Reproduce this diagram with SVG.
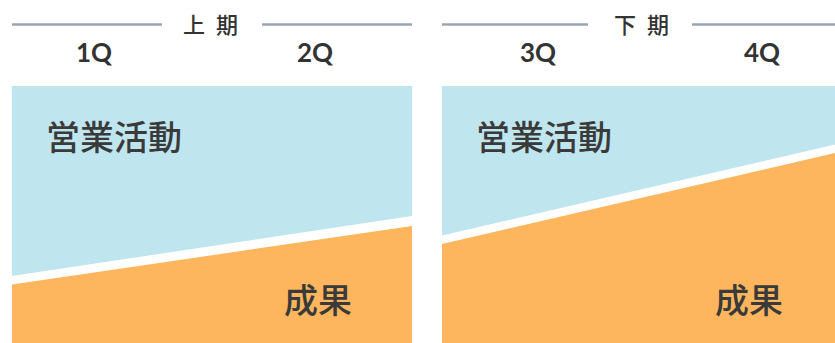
<svg xmlns="http://www.w3.org/2000/svg" width="835" height="343" viewBox="0 0 835 343">
<style>
.rule{stroke:#9ba4b4;stroke-width:2.5;fill:none}
.blue{fill:#bfe5ee}
.orange{fill:#fdb65d}
.period{font-family:"Noto Sans CJK JP",sans-serif;font-size:22px;font-weight:500;fill:#333;letter-spacing:3px}
.q{font-family:Lato,"Liberation Sans",sans-serif;font-size:26px;font-weight:700;fill:#333;text-anchor:middle}
.big{font-family:"Noto Sans CJK JP",sans-serif;font-size:34px;font-weight:500;fill:#3a3a3a}
</style>
<g id="header-first">
<line class="rule" x1="12" y1="24.5" x2="162" y2="24.5"/>
<line class="rule" x1="262" y1="24.5" x2="412" y2="24.5"/>
<text class="period" x="183" y="32.5">上 期</text>
<text class="q" x="94" y="61.5">1Q</text>
<text class="q" x="315" y="61.5">2Q</text>
</g>
<g id="header-second">
<line class="rule" x1="442" y1="24.5" x2="588" y2="24.5"/>
<line class="rule" x1="692" y1="24.5" x2="835" y2="24.5"/>
<text class="period" x="614" y="32.5">下 期</text>
<text class="q" x="538" y="61.5">3Q</text>
<text class="q" x="762" y="61.5">4Q</text>
</g>
<g id="panel-first">
<polygon class="blue" points="12,86 412,86 412,216 12,276"/>
<polygon class="orange" points="12,284.5 412,226 412,343 12,343"/>
<text class="big" x="46" y="149.5">営業活動</text>
<text class="big" x="284" y="313">成果</text>
</g>
<g id="panel-second">
<polygon class="blue" points="442,86 835,86 835,144.5 442,235.5"/>
<polygon class="orange" points="442,244 835,153 835,343 442,343"/>
<text class="big" x="476" y="149.5">営業活動</text>
<text class="big" x="715" y="313">成果</text>
</g>
<g id="connectors"/>
</svg>
